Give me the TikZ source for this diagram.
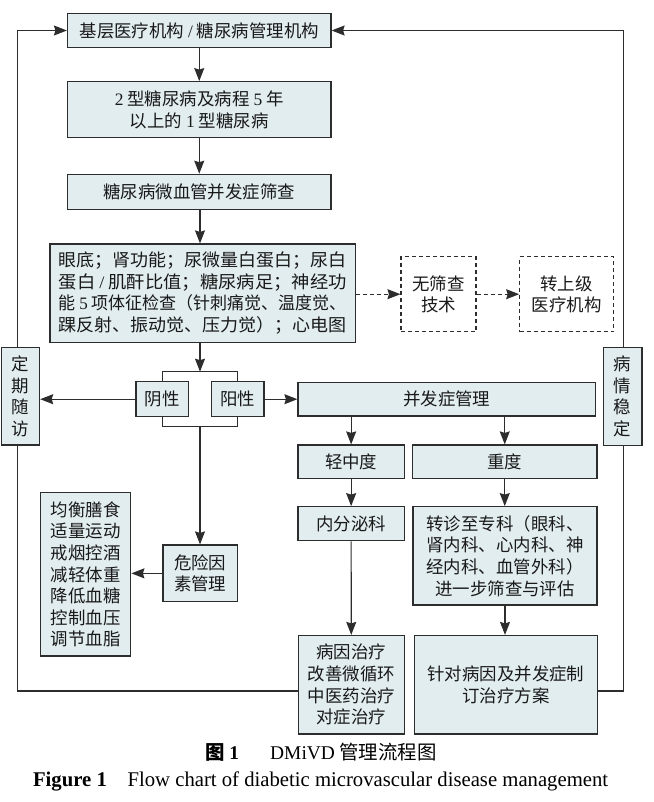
\documentclass[tikz,border=0pt]{standalone}
\usepackage{fontspec}
\usepackage{graphicx}
\setmainfont{Noto Sans CJK SC}
\newfontfamily\tnr{Liberation Serif}
\usetikzlibrary{arrows.meta}
\definecolor{boxfill}{RGB}{226,237,240}
\definecolor{ink}{RGB}{45,45,45}
\newcommand\fsz{\fontsize{17.5}{21.7}\selectfont}
\newcommand\jl[1]{\resizebox{288bp}{\height}{#1}}
\begin{document}
\begin{tikzpicture}[x=1bp,y=-1bp,
  box/.style={draw=ink,line width=1.2bp,fill=boxfill,inner sep=0pt,align=center,font=\fsz,text=black!90},
  dbox/.style={draw=ink,line width=1.1bp,dash pattern=on 4bp off 3bp,fill=white,inner sep=0pt,align=center,font=\fsz,text=black!90},
  ln/.style={draw=ink,line width=1.1bp},
  arr/.style={ln,-{Stealth[length=13bp,width=10bp,inset=1.5bp]}},
  darr/.style={arr,dash pattern=on 4bp off 3bp}]
\useasboundingbox (0,0) rectangle (654,802);

% main column
\node[box,minimum width=263.5bp,minimum height=34.4bp] (b1) at (199.25,30.5) {基层医疗机构 {\tnr /} 糖尿病管理机构};
\node[box,minimum width=263.5bp,minimum height=56bp] (b2) at (199.25,109.7) {{\tnr 2} 型糖尿病及病程 {\tnr 5} 年\\以上的 {\tnr 1} 型糖尿病};
\node[box,minimum width=263.5bp,minimum height=35bp] (b3) at (199.25,191.8) {糖尿病微血管并发症筛查};
\node[box,minimum width=305.4bp,minimum height=98.3bp] (b4) at (202.7,293.15) {\jl{眼底；肾功能；尿微量白蛋白；尿白}\\\jl{蛋白 {\tnr /} 肌酐比值；糖尿病足；神经功}\\\jl{能 {\tnr 5} 项体征检查（针刺痛觉、温度觉、}\\\jl{踝反射、振动觉、压力觉）；心电图}};

% dashed branch
\node[dbox,minimum width=75bp,minimum height=75bp] (nd) at (438.5,294.2) {无筛查\\技术};
\node[dbox,minimum width=94bp,minimum height=75bp] (up) at (566.7,294.2) {转上级\\医疗机构};

% side boxes
\node[box,minimum width=38.4bp,minimum height=97.7bp] (dq) at (20.4,396.2) {定\\期\\随\\访};
\node[box,minimum width=38.7bp,minimum height=98.4bp] (bq) at (622.7,396.5) {病\\情\\稳\\定};

% results
\node[box,minimum width=52.3bp,minimum height=35bp] (neg) at (162.2,399.2) {阴性};
\node[box,minimum width=52.3bp,minimum height=35bp] (pos) at (237.85,399.2) {阳性};

% complication management
\node[box,minimum width=297.5bp,minimum height=33.5bp] (cm) at (446.75,399.25) {并发症管理};
\node[box,minimum width=106.3bp,minimum height=33.3bp] (mild) at (351.15,461.65) {轻中度};
\node[box,minimum width=184.5bp,minimum height=33.3bp] (sev) at (504.75,461.65) {重度};
\node[box,minimum width=106.3bp,minimum height=34bp] (endo) at (351.15,523.7) {内分泌科};
\node[box,minimum width=184bp,minimum height=98.3bp] (ref) at (505,555.85) {转诊至专科（眼科、\\肾内科、心内科、神\\经内科、血管外科）\\进一步筛查与评估};
\node[box,minimum width=106bp,minimum height=98.5bp] (tr1) at (351.3,684.75) {病因治疗\\改善微循环\\中医药治疗\\对症治疗};
\node[box,minimum width=183.2bp,minimum height=98.5bp] (tr2) at (505.9,684.75) {针对病因及并发症制\\订治疗方案};

% risk factors
\node[box,minimum width=74.5bp,minimum height=56.7bp] (risk) at (200.25,573.35) {危险因\\素管理};
\node[box,minimum width=90.4bp,minimum height=163.3bp] (life) at (85.6,574.35) {均衡膳食\\适量运动\\戒烟控酒\\减轻体重\\降低血糖\\控制血压\\调节血脂};

% helper coordinates
\coordinate (bt) at (200,371.7);
\coordinate (bb) at (200,426.7);
\coordinate (LX) at (17.5,0);
\coordinate (RX) at (623.5,0);
\coordinate (LY) at (0,691);

% connectors
\draw[arr] (b1) -- (b2);
\draw[arr] (b2) -- (b3);
\draw[arr] (b3.south -| bt) -- (b4.north -| bt);
\draw[arr] (b4.south -| bt) -- (bt);
\draw[ln] (neg.north) -- (neg.north |- bt) -- (pos.north |- bt) -- (pos.north);
\draw[ln] (neg.south) -- (neg.south |- bb) -- (pos.south |- bb) -- (pos.south);
\draw[arr] (bb) -- (bb |- risk.north);
\draw[arr] (neg.west) -- (neg.west -| dq.east);
\draw[arr] (pos.east) -- (pos.east -| cm.west);
\draw[arr] (mild.north |- cm.south) -- (mild.north);
\draw[arr] (sev.north |- cm.south) -- (sev.north);
\draw[arr] (mild) -- (endo);
\draw[arr] (endo) -- (tr1);
\draw[arr] (sev.south) -- (sev.south |- ref.north);
\draw[arr] (ref.south) -- (ref.south |- tr2.north);
\draw[arr] (risk.west) -- (risk.west -| life.east);
\draw[darr] (b4.east |- nd.west) -- (nd.west);
\draw[darr] (nd.east) -- (up.west);

% feedback loops
\draw[ln] (tr1.west |- LY) -| (dq.south -| LX);
\draw[arr] (dq.north -| LX) |- (b1.west);
\draw[ln] (tr2.east |- LY) -| (bq.south -| RX);
\draw[arr] (bq.north -| RX) |- (b1.east);

% caption
\node[font=\fontsize{19.5}{22}\selectfont] (cap1) at (321,752.7) {{\bfseries 图 {\tnr 1}}\hspace{1.6em}{\tnr DMiVD} 管理流程图};
\node[font=\fontsize{21}{24}\selectfont\tnr] (cap2) at (320.6,781.7) {\resizebox{575bp}{\height}{{\bfseries Figure 1}\hspace{1em}Flow chart of diabetic microvascular disease management}};
\end{tikzpicture}
\end{document}
